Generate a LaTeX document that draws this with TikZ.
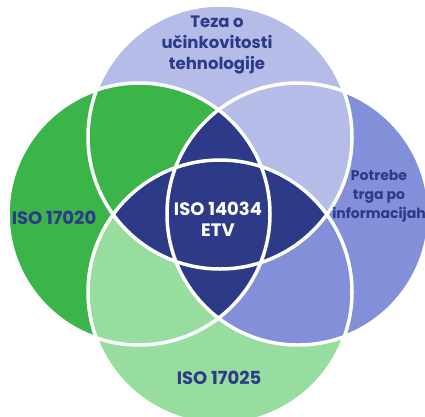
\documentclass[tikz,border=0pt]{standalone}
\usepackage{fontspec}
\setmainfont{Poppins}
\definecolor{cT}{HTML}{B4BCE7}
\definecolor{cL}{HTML}{3BB54A}
\definecolor{cR}{HTML}{838FD8}
\definecolor{cB}{HTML}{97DDA0}
\definecolor{navy}{HTML}{2C3A87}
\begin{document}
\begin{tikzpicture}[x=1pt,y=-1pt,
  lbl/.style={text=navy,font=\bfseries\fontsize{16.5}{21}\selectfont,align=center,inner sep=0pt},
  iso/.style={lbl,font=\bfseries\fontsize{18}{21}\selectfont},
  wl/.style={draw=white,line width=3.5pt}]
\useasboundingbox (0,0) rectangle (425,416);
\clip (0,0) rectangle (425,416);
\def\cT{(220,137) circle[radius=132]}
\def\cB{(220,292) circle[radius=132]}
\def\cL{(139,214) circle[radius=131]}
\def\cR{(298,214) circle[radius=131]}
\fill[cT] \cT;
\fill[cR] \cR;
\fill[cB] \cB;
\fill[cL] \cL;
\begin{scope}\clip \cT; \fill[cL] \cL;\end{scope}
\begin{scope}\clip \cR; \fill[cT] \cT;\end{scope}
\begin{scope}\clip \cB; \fill[cR] \cR;\end{scope}
\begin{scope}\clip \cL; \fill[cB] \cB;\end{scope}
\begin{scope}\clip \cT; \fill[navy] \cB;\end{scope}
\begin{scope}\clip \cL; \fill[navy] \cR;\end{scope}
\draw[wl] \cT;
\draw[wl] \cB;
\draw[wl] \cL;
\draw[wl] \cR;
\node[lbl] (teza) at (217,45) {Teza o\\učinkovitosti\\tehnologije};
\node[iso] (i20) at (54,218) {ISO 17020};
\node[lbl,font=\bfseries\fontsize{14}{19}\selectfont] (pot) at (379,196) {Potrebe\\trga po\\informacijah};
\node[iso,text=white] (etv) at (218,219) {ISO 14034\\ETV};
\node[iso] (i25) at (219,378) {ISO 17025};
\end{tikzpicture}
\end{document}
